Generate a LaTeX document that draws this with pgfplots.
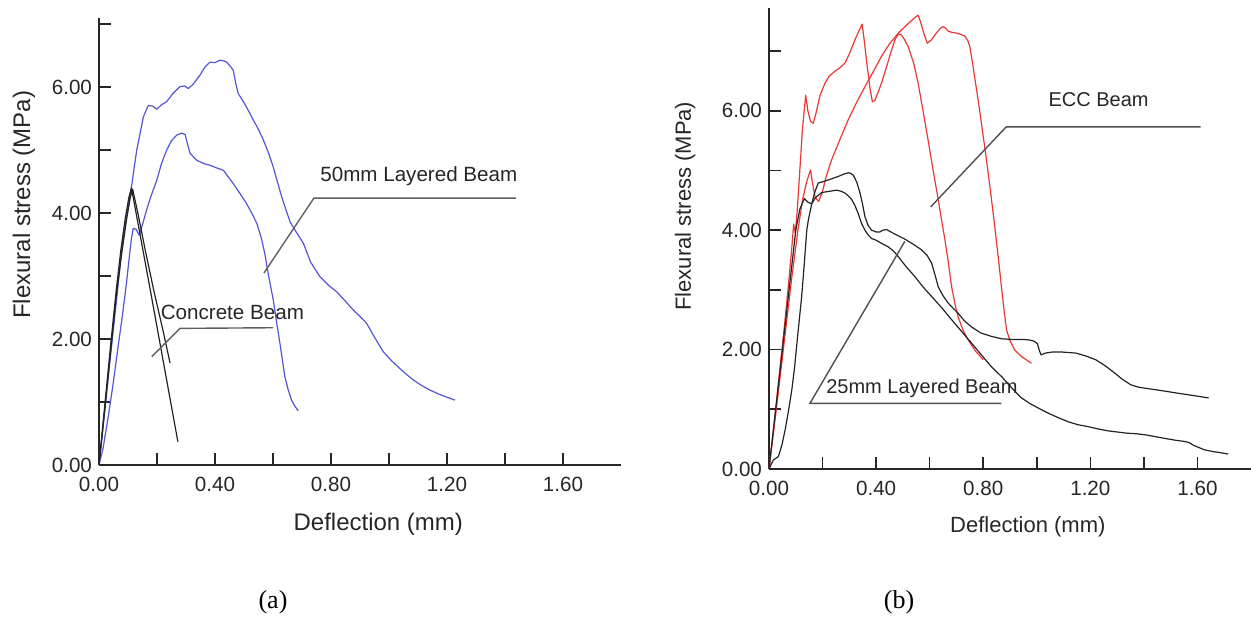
\documentclass[border=0pt]{standalone}
\usepackage{fontspec}
\setmainfont{Liberation Sans}
\newfontfamily\seriffont{Liberation Serif}
\usepackage{pgfplots}
\pgfplotsset{compat=1.18}
\definecolor{cblue}{RGB}{85,85,215}
\definecolor{cred}{RGB}{235,55,55}
\definecolor{cblack}{RGB}{35,35,35}
\definecolor{lead}{RGB}{95,95,95}
\begin{document}
\begin{tikzpicture}
\pgfplotsset{
  myaxis/.style={
    scale only axis, anchor=south west, clip=false,
    xmin=0, xmax=1.8, ymin=0,
    axis x line*=bottom, axis y line*=left,
    xtick align=inside, ytick align=inside,
    xtick={0,0.2,0.4,0.6,0.8,1.0,1.2,1.4,1.6},
    xticklabels={0.00,,0.40,,0.80,,1.20,,1.60},
    ytick={0,1,2,3,4,5,6,7},
    yticklabels={0.00,,2.00,,4.00,,6.00,},
    major tick length=6pt,
    axis line style={line width=0.9pt, black!85},
    tick style={line width=0.8pt, black!85},
    tick label style={font=\fontsize{10.3}{12}\selectfont, text=black!85},
    xticklabel style={yshift=-2.5pt},
    xlabel={Deflection (mm)},
    ylabel={Flexural stress (MPa)},
  }
}
% ---------------- (a) ----------------
\begin{axis}[myaxis, at={(49.5pt,77.5pt)}, width=261pt, height=223.5pt, ymax=7.1,
  xlabel style={at={(axis description cs:0.535,-0.132)}, anchor=center, font=\fontsize{12}{14}\selectfont, text=black!85},
  ylabel style={at={(axis description cs:-0.1437,0.582)}, anchor=center, font=\fontsize{12}{14}\selectfont, text=black!85}]
\addplot[cblue, line width=0.6pt, line join=round] coordinates {
(0,0) (0.02,0.85) (0.04,1.75) (0.06,2.6) (0.078,3.41) (0.095,3.95) (0.113,4.45)
(0.130,5.0) (0.153,5.53) (0.170,5.71) (0.185,5.70) (0.199,5.65) (0.215,5.72)
(0.233,5.77) (0.255,5.90) (0.279,6.01) (0.295,6.02) (0.308,5.98) (0.325,6.05)
(0.348,6.19) (0.365,6.32) (0.383,6.40) (0.400,6.39) (0.417,6.43) (0.430,6.42)
(0.440,6.40) (0.455,6.32) (0.463,6.27) (0.472,6.05) (0.480,5.90) (0.498,5.77)
(0.515,5.63) (0.532,5.48) (0.550,5.33) (0.567,5.16) (0.585,4.95) (0.601,4.73)
(0.615,4.50) (0.630,4.26) (0.645,4.05) (0.659,3.86) (0.680,3.70) (0.705,3.52)
(0.730,3.22) (0.762,2.99) (0.790,2.86) (0.820,2.75) (0.850,2.60) (0.877,2.46)
(0.900,2.36) (0.923,2.25) (0.950,2.03) (0.980,1.80) (1.010,1.65) (1.038,1.53)
(1.060,1.44) (1.084,1.35) (1.110,1.27) (1.141,1.19) (1.180,1.11) (1.228,1.03)
};
\addplot[cblue, line width=0.6pt, line join=round] coordinates {
(0,0) (0.013,0.24) (0.032,0.77) (0.049,1.30) (0.065,1.85) (0.080,2.35) (0.095,2.90)
(0.107,3.41) (0.112,3.60) (0.118,3.76) (0.128,3.74) (0.139,3.65) (0.150,3.82)
(0.164,4.05) (0.180,4.28) (0.199,4.52) (0.215,4.78) (0.233,5.00) (0.250,5.15)
(0.268,5.24) (0.285,5.27) (0.297,5.25) (0.305,5.10) (0.314,4.95) (0.337,4.84)
(0.360,4.79) (0.383,4.76) (0.405,4.72) (0.429,4.68) (0.445,4.58) (0.463,4.47)
(0.485,4.32) (0.509,4.15) (0.527,4.00) (0.544,3.84) (0.560,3.60) (0.572,3.35)
(0.585,3.00) (0.601,2.62) (0.612,2.28) (0.624,1.93) (0.633,1.65) (0.641,1.40)
(0.652,1.20) (0.664,1.03) (0.675,0.94) (0.687,0.86)
};
\addplot[cblack, line width=0.6pt, line join=round] coordinates {
(0,0) (0.02,0.95) (0.04,1.9) (0.06,2.8) (0.075,3.4) (0.090,3.9) (0.103,4.25)
(0.112,4.40) (0.130,3.95) (0.150,3.45) (0.180,2.70) (0.210,1.94) (0.240,1.18) (0.272,0.37)
};
\addplot[cblack, line width=0.6pt, line join=round] coordinates {
(0,0) (0.02,0.9) (0.04,1.8) (0.06,2.7) (0.078,3.35) (0.095,3.9) (0.108,4.25)
(0.116,4.38) (0.135,3.98) (0.160,3.40) (0.190,2.75) (0.220,2.15) (0.245,1.62)
};
\draw[lead, line width=0.7pt] (axis cs:0.569,3.05) -- (axis cs:0.741,4.24) -- (axis cs:1.438,4.24);
\draw[lead, line width=0.7pt] (axis cs:0.182,1.72) -- (axis cs:0.279,2.17) -- (axis cs:0.600,2.18);
\node[font=\fontsize{10.3}{12}\selectfont, text=black!85] at (axis cs:1.103,4.59) {50mm Layered Beam};
\node[font=\fontsize{10.3}{12}\selectfont, text=black!85] at (axis cs:0.460,2.42) {Concrete Beam};
\end{axis}
% ---------------- (b) ----------------
\begin{axis}[myaxis, at={(384.5pt,75.5pt)}, width=241pt, height=230.5pt, ymax=7.72,
  xlabel style={at={(axis description cs:0.537,-0.126)}, anchor=center, font=\fontsize{11}{13}\selectfont, text=black!85},
  ylabel style={at={(axis description cs:-0.174,0.570)}, anchor=center, font=\fontsize{11}{13}\selectfont, text=black!85}]
\addplot[cred, line width=0.6pt, line join=round] coordinates {
(0,0) (0.02,0.8) (0.04,1.65) (0.06,2.5) (0.075,3.2) (0.085,3.7) (0.092,4.1) (0.098,3.95)
(0.105,4.3) (0.115,5.0) (0.125,5.7) (0.137,6.26) (0.145,6.0) (0.155,5.82) (0.165,5.79)
(0.175,5.95) (0.190,6.25) (0.209,6.46) (0.225,6.58) (0.246,6.66) (0.265,6.72) (0.284,6.80)
(0.300,6.95) (0.321,7.19) (0.335,7.33) (0.348,7.45) (0.355,7.2) (0.365,6.80) (0.378,6.35)
(0.386,6.15) (0.395,6.17) (0.405,6.28) (0.420,6.46) (0.440,6.75) (0.458,7.02) (0.470,7.18)
(0.480,7.27) (0.492,7.28) (0.505,7.20) (0.520,7.07) (0.540,6.80) (0.557,6.46) (0.575,6.00)
(0.594,5.51) (0.613,5.00) (0.632,4.51) (0.645,4.15) (0.657,3.84) (0.670,3.45) (0.682,3.05)
(0.695,2.75) (0.706,2.55) (0.725,2.32) (0.744,2.16) (0.770,1.98) (0.800,1.83)
};
\addplot[cred, line width=0.6pt, line join=round] coordinates {
(0,0) (0.03,1.1) (0.06,2.25) (0.085,3.2) (0.108,4.0) (0.125,4.5) (0.140,4.8) (0.155,5.01)
(0.162,4.80) (0.172,4.55) (0.185,4.48) (0.198,4.62) (0.215,4.92) (0.234,5.18) (0.265,5.52)
(0.296,5.85) (0.325,6.12) (0.358,6.40) (0.390,6.66) (0.420,6.91) (0.450,7.12) (0.483,7.30)
(0.520,7.46) (0.545,7.56) (0.557,7.60) (0.565,7.50) (0.578,7.30) (0.591,7.13) (0.605,7.18)
(0.625,7.30) (0.640,7.38) (0.650,7.41) (0.660,7.38) (0.669,7.33) (0.685,7.31) (0.700,7.30)
(0.715,7.28) (0.731,7.25) (0.742,7.18) (0.750,7.07) (0.760,6.80) (0.770,6.50) (0.781,6.18)
(0.796,5.70) (0.812,5.18) (0.828,4.62) (0.843,4.06) (0.856,3.55) (0.868,3.05) (0.878,2.65)
(0.887,2.33) (0.899,2.16) (0.918,1.99) (0.944,1.88) (0.980,1.77)
};
\addplot[cblack, line width=0.6pt, line join=round] coordinates {
(0,0) (0.016,0.15) (0.035,0.21) (0.048,0.40) (0.060,0.65) (0.073,0.98) (0.085,1.32)
(0.095,1.68) (0.103,2.05) (0.112,2.45) (0.122,2.89) (0.132,3.45) (0.141,4.0) (0.147,4.17)
(0.160,4.45) (0.172,4.65) (0.184,4.79) (0.200,4.81) (0.221,4.84) (0.240,4.87) (0.259,4.90)
(0.280,4.94) (0.296,4.96) (0.305,4.95) (0.315,4.92) (0.328,4.80) (0.340,4.62) (0.350,4.42)
(0.358,4.23) (0.370,4.08) (0.383,4.00) (0.400,3.97) (0.414,3.97) (0.425,4.00) (0.439,4.01)
(0.455,3.97) (0.476,3.92) (0.507,3.85) (0.540,3.76) (0.570,3.67) (0.590,3.58) (0.607,3.45)
(0.620,3.25) (0.632,3.05) (0.650,2.90) (0.669,2.78) (0.690,2.68) (0.706,2.61) (0.730,2.48)
(0.756,2.38) (0.790,2.28) (0.831,2.22) (0.870,2.18) (0.906,2.17) (0.950,2.17) (0.973,2.16)
(0.990,2.14) (1.002,2.10) (1.010,1.98) (1.016,1.91) (1.031,1.94) (1.060,1.96) (1.090,1.96)
(1.120,1.95) (1.147,1.94) (1.185,1.89) (1.220,1.83) (1.255,1.73) (1.293,1.60) (1.320,1.50)
(1.351,1.41) (1.380,1.37) (1.409,1.35) (1.470,1.31) (1.525,1.27) (1.585,1.23) (1.642,1.19)
};
\addplot[cblack, line width=0.6pt, line join=round] coordinates {
(0,0) (0.02,0.8) (0.04,1.6) (0.06,2.4) (0.080,3.2) (0.100,4.0) (0.115,4.35) (0.132,4.53)
(0.145,4.47) (0.159,4.44) (0.175,4.55) (0.197,4.63) (0.225,4.65) (0.253,4.67) (0.270,4.65)
(0.284,4.62) (0.297,4.57) (0.309,4.51) (0.320,4.42) (0.333,4.28) (0.345,4.12) (0.358,4.0)
(0.370,3.92) (0.383,3.86) (0.396,3.84) (0.420,3.78) (0.445,3.72) (0.465,3.65) (0.482,3.56)
(0.510,3.40) (0.545,3.22) (0.575,3.05) (0.607,2.89) (0.645,2.70) (0.682,2.50) (0.720,2.30)
(0.756,2.11) (0.795,1.90) (0.831,1.71) (0.870,1.54) (0.906,1.36) (0.940,1.20) (0.973,1.10)
(1.010,1.01) (1.045,0.93) (1.080,0.86) (1.118,0.79) (1.155,0.74) (1.191,0.71) (1.230,0.67)
(1.264,0.64) (1.300,0.62) (1.336,0.60) (1.372,0.59) (1.409,0.57) (1.445,0.54) (1.481,0.51)
(1.520,0.48) (1.554,0.46) (1.570,0.44) (1.584,0.40) (1.605,0.36) (1.627,0.32) (1.660,0.29)
(1.690,0.27) (1.715,0.25)
};
\draw[cblack!80, line width=0.7pt] (axis cs:0.604,4.39) -- (axis cs:0.886,5.73) -- (axis cs:1.612,5.73);
\draw[cblack!80, line width=0.7pt] (axis cs:0.507,3.81) -- (axis cs:0.153,1.10) -- (axis cs:0.868,1.10);
\node[font=\fontsize{10}{12}\selectfont, text=black!85] at (axis cs:1.231,6.18) {ECC Beam};
\node[font=\fontsize{10}{12}\selectfont, text=black!85] at (axis cs:0.571,1.35) {25mm Layered Beam};
\end{axis}
\node[font=\seriffont\fontsize{13}{15}\selectfont] at (136.5pt,9pt) {(a)};
\node[font=\seriffont\fontsize{13}{15}\selectfont] at (449.5pt,9pt) {(b)};
\pgfresetboundingbox
\path[use as bounding box] (0,0) rectangle (625.5pt,310pt);
\end{tikzpicture}
\end{document}
